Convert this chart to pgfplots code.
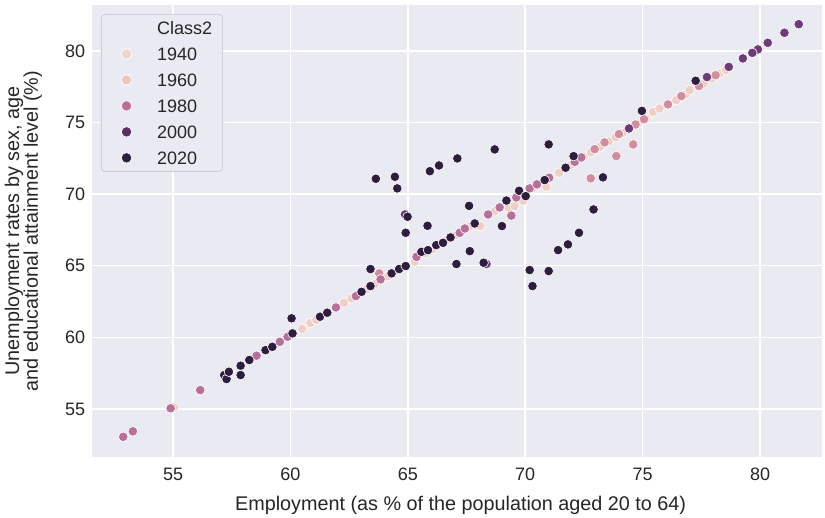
\documentclass[border=0pt]{standalone}
\usepackage{fontspec}
\setmainfont{Liberation Sans}
\usepackage{pgfplots}
\pgfplotsset{compat=1.18}
\definecolor{bg}{HTML}{EAEAF2}
\definecolor{txt}{HTML}{262626}
\definecolor{lgray}{HTML}{CFCFD6}
\definecolor{cA}{HTML}{EFCFC4}
\definecolor{cB}{HTML}{D18C9E}
\definecolor{cC}{HTML}{B86F99}
\definecolor{cD}{HTML}{6E3A78}
\definecolor{cE}{HTML}{2E1D3F}
\definecolor{l1940}{HTML}{F1D4CA}
\definecolor{l1960}{HTML}{EDC6BC}
\definecolor{l1980}{HTML}{BB6F98}
\definecolor{l2000}{HTML}{5B2D67}
\definecolor{l2020}{HTML}{2E1D3F}
\pgfplotsset{
  dot/.style={only marks, mark=*, mark size=3.45bp, forget plot,
    mark options={fill=#1, draw=white, line width=0.45bp}},
  leg/.style={only marks, mark=*, mark size=3.8bp,
    mark options={fill=#1, draw=white, line width=0.5bp}},
}
\begin{document}
\begin{tikzpicture}
\useasboundingbox (-66.24bp,-43.92bp) rectangle (527.76bp,329.04bp);
\begin{axis}[
  at={(0bp,0bp)}, anchor=south west,
  width=525.6bp, height=325.44bp, scale only axis,
  xmin=51.55, xmax=82.64, ymin=51.65, ymax=83.2,
  axis background/.style={fill=bg},
  axis line style={draw=none},
  major tick length=0pt,
  grid=major, major grid style={white, line width=1.05bp},
  xtick={55,60,65,70,75,80}, ytick={55,60,65,70,75,80},
  tick label style={font=\fontsize{13}{15}\selectfont, text=txt},
  /pgf/number format/assume math mode=true,
  xticklabel style={yshift=-4.5bp},
  yticklabel style={xshift=-1.5bp},
  xlabel={Employment (as \% of the population aged 20 to 64)},
  ylabel={Unemployment rates by sex, age\\and educational attainment level (\%)},
  label style={font=\fontsize{14.3}{13.5}\selectfont, text=txt},
  xlabel style={at={(axis description cs:0.505,-0.108)}, anchor=center},
  ylabel style={at={(axis description cs:-0.094,0.5)}, anchor=center, align=center},
  legend cell align=left,
  legend image code/.code={\path (0bp,0bp) (32.2bp,0bp); \draw[#1] plot coordinates {(10.4bp,0bp)};},
  legend style={at={(axis description cs:0.0123,0.980)}, anchor=north west,
    fill=bg, draw=lgray, line width=0.6bp, rounded corners=2.5bp,
    inner xsep=7.4bp, inner ysep=4bp, row sep=7.2bp,
    font=\fontsize{13}{15}\selectfont, text=txt,
    nodes={inner xsep=0bp, inner ysep=1bp, text height=9.5bp, text depth=0bp}},
]
\addlegendimage{empty legend}
\addlegendentry{Class2}
\addlegendimage{leg=l1940}\addlegendentry{1940}
\addlegendimage{leg=l1960}\addlegendentry{1960}
\addlegendimage{leg=l1980}\addlegendentry{1980}
\addlegendimage{leg=l2000}\addlegendentry{2000}
\addlegendimage{leg=l2020}\addlegendentry{2020}

% peach
\addplot[dot=cA] coordinates {
(55.05,55.12) (60.50,60.60) (60.85,61.00) (61.10,61.22) (62.28,62.41) (62.60,62.72)
(63.25,63.35) (63.60,63.72) (64.15,64.27) (64.75,64.85) (65.30,65.28) (65.75,65.87)
(66.05,66.15) (66.70,66.82) (67.00,67.10) (67.65,67.75) (68.09,67.77) (68.70,68.80)
(69.30,69.05) (69.55,69.16) (69.91,69.53) (70.30,70.40) (70.90,70.51) (71.44,71.49)
(71.95,72.05) (72.50,72.62) (72.80,72.92) (73.20,73.32) (73.55,73.67) (73.85,73.97)
(74.15,74.27) (74.45,74.57) (74.80,74.92) (75.15,75.27) (75.44,75.74) (75.72,75.98)
(76.10,76.20) (76.43,76.56) (76.85,76.97) (77.00,77.26) (77.60,77.72) (77.95,78.07)
(78.28,78.42) (78.55,78.65)
};
% pink
\addplot[dot=cB] coordinates {
(63.78,64.47) (72.96,73.14) (73.38,73.61) (73.99,74.19) (74.70,74.86) (75.06,75.23)
(72.79,71.10) (73.88,72.65) (74.60,73.47) (76.08,76.26) (76.65,76.84) (77.40,77.54)
(78.11,78.30)
};
% mauve
\addplot[dot=cC] coordinates {
(52.88,53.06) (53.29,53.44) (54.90,55.05) (56.16,56.32) (58.56,58.72) (59.55,59.69)
(59.88,60.04) (61.94,62.09) (62.79,62.88) (63.84,64.05) (65.37,65.62) (67.21,67.30)
(67.43,67.60) (68.42,68.58) (68.91,69.07) (69.62,69.77) (69.41,68.50) (70.19,70.40)
(70.50,70.68) (71.02,71.14) (72.11,72.25) (72.39,72.56)
};
% purple
\addplot[dot=cD] coordinates {
(81.65,81.86) (81.04,81.26) (80.33,80.56) (79.91,80.10) (79.67,79.86) (79.27,79.47)
(78.67,78.88) (77.74,78.17) (68.35,65.12) (64.88,68.58) (74.42,74.58)
};
% dark
\addplot[dot=cE] coordinates {
(57.18,57.37) (57.28,57.09) (57.38,57.60) (57.88,58.02) (57.88,57.37) (58.25,58.42)
(58.94,59.11) (59.23,59.34) (60.09,60.28) (61.26,61.44) (61.57,61.72) (63.03,63.18)
(63.41,63.58) (64.31,64.47) (64.63,64.77) (64.91,64.98) (65.58,65.97) (65.86,66.09)
(66.21,66.44) (66.50,66.60) (66.82,66.98) (67.85,67.95) (69.20,69.55) (69.74,70.23)
(70.02,69.86) (70.83,70.98) (71.72,71.84) (72.06,72.65)
(60.05,61.33) (63.41,64.77) (63.64,71.07) (64.45,71.21) (64.55,70.40) (64.99,68.42)
(64.91,67.30) (65.84,67.79) (65.94,71.60) (66.33,72.00) (67.11,72.49) (68.70,73.12)
(67.07,65.12) (67.61,69.18) (67.64,66.02) (68.23,65.21) (69.01,67.77) (70.19,64.70)
(71.00,64.63) (70.31,63.58) (71.40,66.09) (71.82,66.49) (72.29,67.30) (72.91,68.93)
(73.31,71.17) (71.00,73.47) (74.97,75.81) (77.26,77.91)
};
\end{axis}
\end{tikzpicture}
\end{document}
